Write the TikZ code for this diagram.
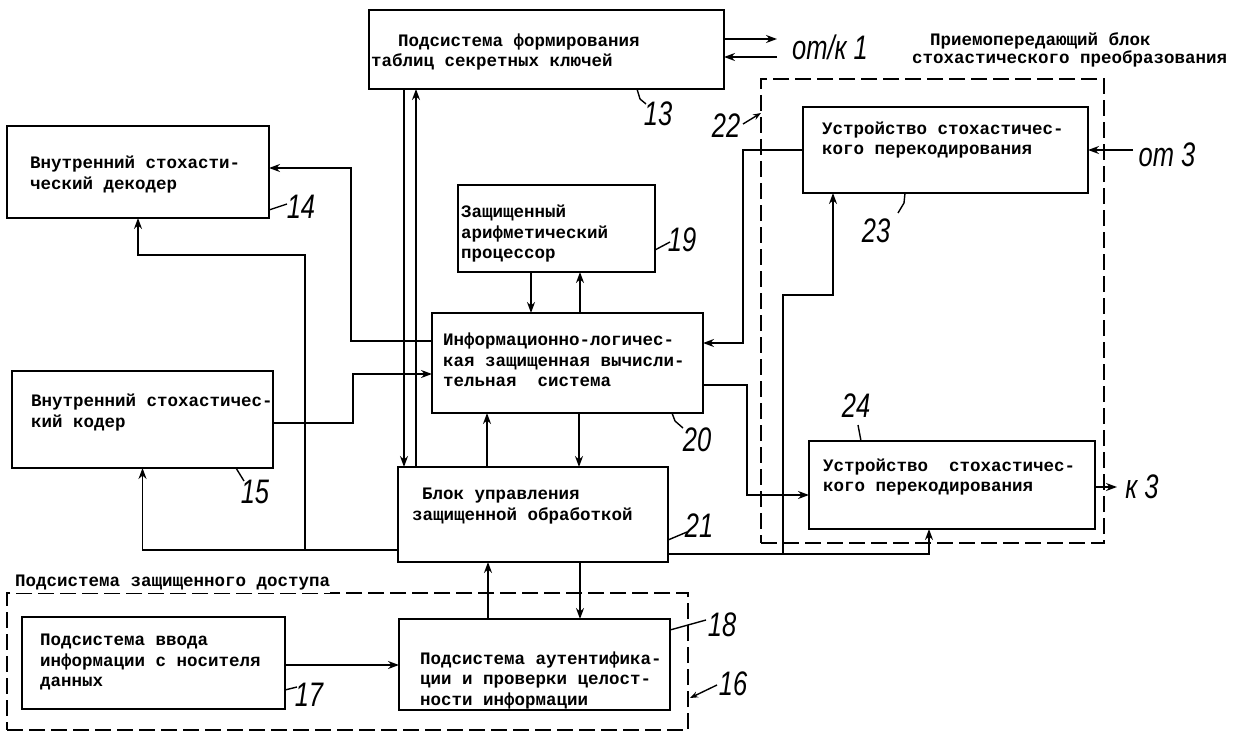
\documentclass[tikz,border=0pt]{standalone}
\usepackage{fontspec}
\usetikzlibrary{arrows.meta,calc}
\newfontfamily\tw{Liberation Mono}
\newfontfamily\hand[FakeStretch=0.75]{Liberation Sans}
\tikzset{
 box/.style={draw, line width=2pt, inner sep=0pt, outer sep=0pt, rectangle},
 grp/.style={draw, line width=1.6pt, dash pattern=on 16pt off 6pt, inner sep=0pt, outer sep=0pt, rectangle},
 txt/.style={font=\tw\bfseries\fontsize{17.5}{20.5}\selectfont, align=left, inner sep=0pt, anchor=west},
 hdr/.style={font=\tw\bfseries\fontsize{17.5}{16}\selectfont, align=left, inner sep=0pt, anchor=west},
 num/.style={font=\hand\itshape\fontsize{34}{34}\selectfont, inner sep=0pt},
 wire/.style={line width=1.7pt},
 arr/.style={wire, -{Stealth[length=11pt,width=8pt]}},
 tick/.style={line width=1.4pt}
}
\begin{document}
\begin{tikzpicture}[x=1pt,y=-1pt]
\useasboundingbox (0,0) rectangle (1237,733);
% groups
\node[grp, minimum width=343pt, minimum height=464pt] (g22) at (932.5,311) {};
\node[grp, minimum width=681pt, minimum height=137pt] (g16) at (347.5,661.5) {};
\node[hdr] (h22) at (912,50) {\hspace*{18pt}Приемопередающий блок\\стохастического преобразования};
\node[hdr, fill=white, inner ysep=2pt] (h16) at (15,583) {Подсистема защищенного доступа};
% boxes
\node[box, minimum width=355pt, minimum height=79pt] (b13) at (546.5,49.5) {};
\node[box, minimum width=262pt, minimum height=92pt] (b14) at (138,172) {};
\node[box, minimum width=197pt, minimum height=87pt] (b19) at (556.5,228.5) {};
\node[box, minimum width=271pt, minimum height=100pt] (b20) at (567.5,363) {};
\node[box, minimum width=261pt, minimum height=97pt] (b15) at (142.5,419.5) {};
\node[box, minimum width=270pt, minimum height=95pt] (b21) at (533,514.5) {};
\node[box, minimum width=285pt, minimum height=86pt] (b23) at (945.5,150) {};
\node[box, minimum width=286pt, minimum height=88pt] (b24) at (952,485) {};
\node[box, minimum width=263pt, minimum height=92pt] (b17) at (153.5,663) {};
\node[box, minimum width=271pt, minimum height=91pt] (b18) at (534.5,664.5) {};
% texts
\node[txt] (t13) at (371,52) {\hspace*{27pt}Подсистема формирования\\таблиц секретных ключей};
\node[txt] (t14) at (30,174.5) {Внутренний стохасти-\\ческий декодер};
\node[txt] (t19) at (461,234) {Защищенный\\арифметический\\процессор};
\node[txt] (t20) at (443,360) {Информационно-логичес-\\кая защищенная вычисли-\\тельная\ \ система};
\node[txt] (t15) at (31,412.5) {Внутренний стохастичес-\\кий кодер};
\node[txt] (t21) at (412,506) {\hspace*{10pt}Блок управления\\защищенной обработкой};
\node[txt] (t23) at (822,140) {Устройство стохастичес-\\кого перекодирования};
\node[txt] (t24) at (823,477) {Устройство\ \ стохастичес-\\кого перекодирования};
\node[txt] (t17) at (40,662) {Подсистема ввода\\информации с носителя\\данных};
\node[txt] (t18) at (420,680) {Подсистема аутентифика-\\ции и проверки целост-\\ности информации};
% connectors 13 <-> 21
\draw[arr] ([xshift=35pt]b13.south west) -- ([xshift=35pt]b13.south west |- b21.north);
\draw[arr] ([xshift=47pt]b13.south west |- b21.north) -- ([xshift=47pt]b13.south west);
% 13 external
\coordinate (o1) at ([xshift=53pt,yshift=10.5pt]b13.east);
\coordinate (i1) at ([xshift=53pt,yshift=-7.5pt]b13.east);
\draw[arr] ([yshift=10.5pt]b13.east) -- (o1);
\draw[arr] (i1) -- ([yshift=-7.5pt]b13.east);
\node[num] (l1) at (830,47) {от/к 1};
% 19 <-> 20
\draw[arr] ([xshift=73pt]b19.south west) -- ([xshift=73pt]b19.south west |- b20.north);
\draw[arr] ([xshift=122pt]b19.south west |- b20.north) -- ([xshift=122pt]b19.south west);
% 20 <-> 21
\draw[arr] ([xshift=147pt]b20.south west) -- ([xshift=147pt]b20.south west |- b21.north);
\draw[arr] ([xshift=55pt]b20.south west |- b21.north) -- ([xshift=55pt]b20.south west);
% 21 <-> 18
\draw[arr] ([xshift=182pt]b21.south west) -- ([xshift=182pt]b21.south west |- b18.north);
\draw[arr] ([xshift=90pt]b21.south west |- b18.north) -- ([xshift=90pt]b21.south west);
% 17 -> 18
\draw[arr] ([yshift=-2pt]b17.east) -- ([yshift=-2pt]b17.east -| b18.west);
% 20 -> 14
\draw[arr] ([yshift=22pt]b20.west) -- ++(-81,0) |- ([yshift=4pt]b14.east);
% 15 -> 20
\draw[arr] ([yshift=-3.5pt]b15.east) -- ++(80,0) |- ([yshift=-11pt]b20.west);
% 21 -> 15, 14
\draw[arr] ([yshift=-35.5pt]b21.west) -| (b15.south);
\coordinate (j1) at ([xshift=-93pt,yshift=-35.5pt]b21.west);
\draw[arr] (j1) -- ++(0,-295) -| (b14.south);
% 23 -> 20
\draw[arr] (b23.west) -- ++(-60,0) |- ([yshift=20pt]b20.east);
% 20 -> 24
\draw[arr] ([yshift=-22pt]b20.east) -- ++(44,0) |- ([yshift=-10pt]b24.west);
% 21 -> 24, 23
\draw[arr] ([yshift=-39.5pt]b21.east) -| ([xshift=120pt]b24.south west);
\coordinate (j2) at ([xshift=115pt,yshift=-39.5pt]b21.east);
\draw[arr] (j2) -- ++(0,-259) -| ([xshift=30pt]b23.south west);
% external 3
\coordinate (i3) at ([xshift=45pt]b23.east);
\draw[arr] (i3) -- (b23.east);
\node[num] (l3) at (1167,155) {от 3};
\coordinate (o3) at ([xshift=22pt,yshift=-2pt]b24.east);
\draw[arr] ([yshift=-2pt]b24.east) -- (o3);
\node[num] (l4) at (1142,487) {к 3};
% reference numbers
\node[num] (n13) at (658,114) {13};
\draw[tick] ([xshift=268pt]b13.south west) -- ++(3,10) -- ++(6,5);
\node[num] (n14) at (301,207) {14};
\draw[tick] ([yshift=8pt]b14.south east) -- ++(18,-6);
\node[num] (n15) at (255,492) {15};
\draw[tick] ([xshift=-37pt]b15.south east) -- ++(8,13);
\node[num] (n19) at (682,240) {19};
\draw[tick] ([yshift=22pt]b19.south east) -- ++(15,-8);
\node[num] (n20) at (697,440) {20};
\draw[tick] ([xshift=-31pt]b20.south east) -- ++(3,8) -- ++(8,7);
\node[num] (n21) at (699,526) {21};
\draw[tick] ([yshift=22pt]b21.south east) -- ++(19,-8);
\node[num] (n23) at (876,231) {23};
\draw[tick] ([xshift=102pt]b23.south west) -- ++(-1,10) -- ++(-6,10);
\node[num] (n24) at (856,406) {24};
\draw[tick] ([xshift=52pt]b24.north west) -- ++(-3,-16);
\node[num] (n22) at (726,126) {22};
\draw[tick, -{Stealth[length=8pt,width=6pt]}] ([xshift=-18pt,yshift=-45pt]g22.north west) -- ([yshift=-34pt]g22.north west);
\node[num] (n17) at (309,695) {17};
\draw[tick] ([yshift=19pt]b17.south east) -- ++(12,-3);
\node[num] (n18) at (722,625) {18};
\draw[tick] ([yshift=-11pt]b18.north east) -- ++(36,-10);
\node[num] (n16) at (733,684) {16};
\draw[tick, -{Stealth[length=8pt,width=6pt]}] ([xshift=29pt,yshift=-92pt]g16.north east) -- ([xshift=2pt,yshift=-105pt]g16.north east);
\end{tikzpicture}
\end{document}
